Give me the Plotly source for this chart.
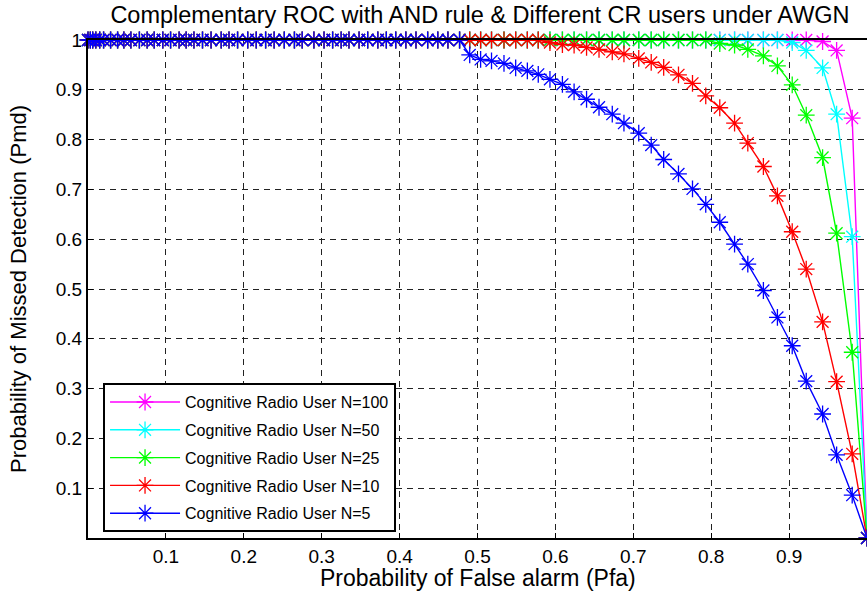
import plotly.graph_objects as go

# Shared false-alarm grid
pfa = [0.000, 0.003, 0.006, 0.010, 0.015, 0.020, 0.029, 0.038, 0.046, 0.055,
       0.066, 0.076, 0.085, 0.096, 0.106, 0.117, 0.126, 0.136, 0.147, 0.158,
       0.171, 0.181, 0.192, 0.205, 0.216, 0.228, 0.239, 0.252, 0.265, 0.275,
       0.290, 0.303, 0.314, 0.325, 0.335, 0.348, 0.359, 0.372, 0.383, 0.395,
       0.408, 0.421, 0.436, 0.449, 0.462, 0.477, 0.490, 0.504, 0.518, 0.534,
       0.549, 0.564, 0.578, 0.593, 0.609, 0.624, 0.640, 0.656, 0.673, 0.688,
       0.707, 0.723, 0.739, 0.758, 0.776, 0.793, 0.811, 0.830, 0.847, 0.867,
       0.885, 0.904, 0.922, 0.943, 0.961, 0.981, 1.000]

pmd_n100 = [1.0] * 73 + [0.997, 0.979, 0.843, 0.0]
pmd_n50 = [1.0] * 71 + [0.995, 0.979, 0.944, 0.851, 0.605, 0.0]
pmd_n25 = [1.0] * 66 + [0.993, 0.990, 0.981, 0.968, 0.948, 0.910, 0.849,
                        0.764, 0.612, 0.373, 0.0]
pmd_n10 = [1.0] * 53 + [0.995, 0.991, 0.990, 0.985, 0.981, 0.976, 0.972,
                        0.963, 0.955, 0.945, 0.930, 0.913, 0.888, 0.864,
                        0.833, 0.793, 0.746, 0.687, 0.615, 0.540, 0.434,
                        0.314, 0.169, 0.0]
pmd_n5 = [1.0] * 46 + [0.970, 0.961, 0.958, 0.953, 0.944, 0.938, 0.931,
                       0.921, 0.911, 0.896, 0.881, 0.865, 0.851, 0.833,
                       0.813, 0.789, 0.760, 0.731, 0.701, 0.670, 0.634,
                       0.590, 0.550, 0.497, 0.443, 0.386, 0.315, 0.249,
                       0.167, 0.086, 0.0]

series_names = ["Cognitive Radio User N=100", "Cognitive Radio User N=50",
                "Cognitive Radio User N=25", "Cognitive Radio User N=10",
                "Cognitive Radio User N=5"]
series_values = [pmd_n100, pmd_n50, pmd_n25, pmd_n10, pmd_n5]
series_colors = ["#FF00FF", "#00FFFF", "#00FF00", "#FF0000", "#0000FF"]

tick_vals = [0.1, 0.2, 0.3, 0.4, 0.5, 0.6, 0.7, 0.8, 0.9, 1.0]
tick_text = ["0.1", "0.2", "0.3", "0.4", "0.5", "0.6", "0.7", "0.8", "0.9", "1"]

title_text = "Complementary ROC with AND rule & Different CR users under AWGN"
x_title = "Probability of False alarm (Pfa)"
y_title = "Probability of Missed Detection (Pmd)"

FONT = "Liberation Sans, Arial, sans-serif"

fig = go.Figure()
for i, (name, vals, col) in enumerate(zip(series_names, series_values, series_colors)):
    fig.add_trace(go.Scatter(
        x=pfa, y=vals, name=name, mode="lines+markers",
        legendgroup=f"g{i}", cliponaxis=False,
        line=dict(color=col, width=1.4),
        marker=dict(symbol="asterisk-open", size=14, color=col,
                    line=dict(color=col, width=1.3)),
    ))

axis_common = dict(
    showline=True, linecolor="black", linewidth=2, mirror=True,
    ticks="inside", ticklen=5, tickcolor="black", tickwidth=1,
    showgrid=True, gridcolor="#222222", gridwidth=1, griddash="6px,5px",
    zeroline=False, tickfont=dict(family=FONT, size=19, color="black"),
    tickvals=tick_vals, ticktext=tick_text, automargin=False,
)

fig.update_layout(
    width=867, height=592,
    margin=dict(l=88, r=0, t=40, b=54),
    paper_bgcolor="white", plot_bgcolor="white",
    font=dict(family=FONT, color="black"),
    title=dict(text=title_text, x=0.5536, xanchor="center", y=0.9747,
               yanchor="middle", font=dict(family=FONT, size=23.5, color="black")),
    xaxis=dict(range=[0, 1], **axis_common),
    yaxis=dict(range=[0, 1], **axis_common),
    legend=dict(x=0.0193, y=0.311, xanchor="left", yanchor="top",
                bgcolor="white", bordercolor="black", borderwidth=2,
                font=dict(family=FONT, size=16, color="black"),
                itemwidth=70, tracegroupgap=4, traceorder="grouped"),
    showlegend=True,
    annotations=[
        dict(text=x_title, xref="paper", yref="paper", x=0.5, y=-0.0803,
             xanchor="center", yanchor="middle", showarrow=False,
             font=dict(family=FONT, size=23, color="black")),
        dict(text=y_title, xref="paper", yref="paper", x=-0.0899, y=0.5,
             xanchor="center", yanchor="middle", showarrow=False, textangle=-90,
             font=dict(family=FONT, size=22, color="black")),
    ],
)

fig.write_html("out.html",
               config={"displayModeBar": False},
               post_script="document.body.style.margin='0';"
                           "document.body.style.overflow='hidden';")
